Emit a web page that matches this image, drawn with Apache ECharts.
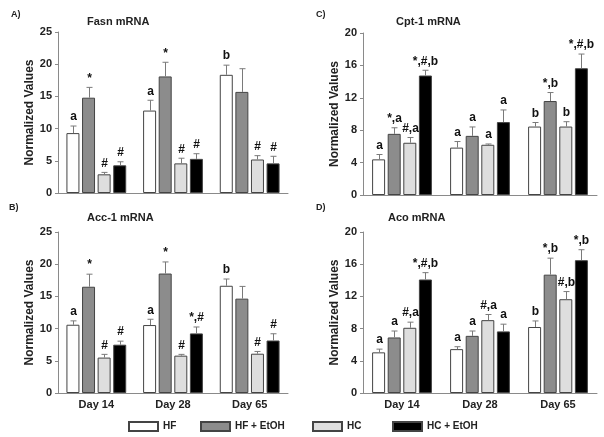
<!DOCTYPE html>
<html>
<head>
<meta charset="utf-8">
<script src="https://cdn.jsdelivr.net/npm/echarts@6/dist/echarts.min.js"></script>
<style>
  html, body { margin: 0; padding: 0; background: #fff; }
  #chart { width: 604px; height: 437px; }
</style>
</head>
<body>
<div id="chart"></div>
<script>
// categories and groups
const days = ['Day 14', 'Day 28', 'Day 65'];
const groups = ['HF', 'HF + EtOH', 'HC', 'HC + EtOH'];
const colors = ['#ffffff', '#8c8c8c', '#dedede', '#000000'];

// A) Fasn mRNA  (rows = groups, cols = days)
const fasnMean = [[9.3, 12.8, 18.35], [14.8, 18.1, 15.7], [2.9, 4.6, 5.2], [4.3, 5.3, 4.6]];
const fasnErr  = [[1.1, 1.6, 1.5], [1.6, 2.2, 3.6], [0.3, 0.8, 0.6], [0.55, 0.8, 1.1]];
const fasnSig  = [['a', 'a', 'b'], ['*', '*', ''], ['#', '#', '#'], ['#', '#', '#']];

// B) Acc-1 mRNA
const accMean = [[10.6, 10.55, 16.65], [16.5, 18.55, 14.65], [5.5, 5.8, 6.1], [7.5, 9.25, 8.15]];
const accErr  = [[0.6, 0.9, 1.05], [1.95, 1.8, 1.9], [0.5, 0.2, 0.35], [0.55, 1.0, 1.05]];
const accSig  = [['a', 'a', 'b'], ['*', '*', ''], ['#', '#', '#'], ['#', '*,#', '#']];

// C) Cpt-1 mRNA
const cptMean = [[4.4, 5.85, 8.45], [7.55, 7.3, 11.6], [6.45, 6.2, 8.45], [14.75, 9.0, 15.65]];
const cptErr  = [[0.6, 0.75, 0.5], [0.75, 1.1, 1.05], [0.65, 0.1, 0.6], [0.65, 1.5, 1.75]];
const cptSig  = [['a', 'a', 'b'], ['*,a', 'a', '*,b'], ['#,a', 'a', 'b'], ['*,#,b', 'a', '*,#,b']];

// D) Aco mRNA
const acoMean = [[5.05, 5.45, 8.2], [6.9, 7.1, 14.7], [8.1, 9.05, 11.65], [14.1, 7.65, 16.5]];
const acoErr  = [[0.4, 0.3, 0.75], [0.8, 0.6, 2.05], [0.7, 0.7, 0.95], [0.85, 0.9, 1.3]];
const acoSig  = [['a', 'a', 'b'], ['a', 'a', '*,b'], ['#,a', '#,a', '#,b'], ['*,#,b', 'a', '*,b']];

const FONT = '"Liberation Sans", Arial, sans-serif';
const BAR_W = 13;
const BAR_SP = 2.6;
const AXIS_C = '#8a8a8a';

const panels = [
  { mean: fasnMean, err: fasnErr, sig: fasnSig, max: 25, step: 5, grid: { left: 58, top: 32, width: 230, height: 161 }, days: false },
  { mean: accMean, err: accErr, sig: accSig, max: 25, step: 5, grid: { left: 58, top: 232, width: 230, height: 161 }, days: true },
  { mean: cptMean, err: cptErr, sig: cptSig, max: 20, step: 4, grid: { left: 363, top: 33, width: 234, height: 162 }, days: false },
  { mean: acoMean, err: acoErr, sig: acoSig, max: 20, step: 4, grid: { left: 363, top: 232, width: 234, height: 161 }, days: true }
];

const grids = [], xAxes = [], yAxes = [], series = [];

panels.forEach((p, pi) => {
  grids.push(p.grid);
  xAxes.push({
    type: 'category', gridIndex: pi, data: days,
    axisLine: { lineStyle: { color: AXIS_C } },
    axisTick: { alignWithLabel: true, length: 3, lineStyle: { color: AXIS_C } },
    axisLabel: { show: p.days, color: '#222', fontFamily: FONT, fontWeight: 'bold', fontSize: 11, margin: 6 }
  });
  yAxes.push({
    type: 'value', gridIndex: pi, min: 0, max: p.max, interval: p.step,
    name: 'Normalized Values', nameLocation: 'middle', nameGap: 22,
    nameTextStyle: { color: '#222', fontFamily: FONT, fontWeight: 'bold', fontSize: 12 },
    axisLine: { show: true, lineStyle: { color: AXIS_C } },
    axisTick: { show: true, length: 3, lineStyle: { color: AXIS_C } },
    axisLabel: { color: '#222', fontFamily: FONT, fontWeight: 'bold', fontSize: 11, margin: 6 },
    splitLine: { show: false }
  });
  groups.forEach((g, gi) => {
    series.push({
      name: g, type: 'bar', xAxisIndex: pi, yAxisIndex: pi,
      data: p.mean[gi], barWidth: BAR_W, barGap: '20%',
      itemStyle: { color: colors[gi], borderColor: '#444', borderWidth: 1 }
    });
  });
  // error bars + significance letters
  const items = [];
  groups.forEach((g, gi) => {
    days.forEach((d, di) => {
      items.push([di, p.mean[gi][di], p.mean[gi][di] + p.err[gi][di], gi]);
    });
  });
  series.push({
    type: 'custom', xAxisIndex: pi, yAxisIndex: pi, data: items, z: 10,
    encode: { x: 0, y: [1, 2] },
    renderItem: function (params, api) {
      const di = api.value(0), gi = api.value(3);
      const base = api.coord([di, api.value(1)]);
      const top = api.coord([di, api.value(2)]);
      const x = Math.round(base[0] + (gi - 1.5) * (BAR_W + BAR_SP)) + 0.5;
      const sty = { stroke: '#7a7a7a', lineWidth: 1 };
      const sig = p.sig[gi][di];
      const children = [
        { type: 'line', shape: { x1: x, y1: base[1], x2: x, y2: top[1] }, style: sty },
        { type: 'line', shape: { x1: x - 3, y1: top[1], x2: x + 3, y2: top[1] }, style: sty }
      ];
      if (sig) {
        children.push({
          type: 'text', x: x, y: top[1] - 3,
          style: { text: sig, fill: '#111', font: 'bold 12px ' + FONT, align: 'center', verticalAlign: 'bottom' }
        });
      }
      return { type: 'group', children: children };
    }
  });
});

const titleStyle = { color: '#222', fontFamily: FONT, fontWeight: 'bold', fontSize: 11 };
const panelStyle = { color: '#222', fontFamily: FONT, fontWeight: 'bold', fontSize: 9 };

const legendBase = {
  orient: 'horizontal', top: 421, padding: 0, icon: 'rect', itemWidth: 29, itemHeight: 9, itemGap: 0,
  textStyle: { color: '#222', fontFamily: FONT, fontWeight: 'bold', fontSize: 10 },
  selectedMode: false
};

const option = {
  animation: false,
  backgroundColor: '#fff',
  title: [
    { text: 'A)', left: 6, top: 5, textStyle: panelStyle },
    { text: 'Fasn mRNA', left: 82, top: 11, textStyle: titleStyle },
    { text: 'B)', left: 4, top: 198, textStyle: panelStyle },
    { text: 'Acc-1 mRNA', left: 82, top: 207, textStyle: titleStyle },
    { text: 'C)', left: 311, top: 5, textStyle: panelStyle },
    { text: 'Cpt-1 mRNA', left: 391, top: 11, textStyle: titleStyle },
    { text: 'D)', left: 311, top: 198, textStyle: panelStyle },
    { text: 'Aco mRNA', left: 383, top: 207, textStyle: titleStyle }
  ],
  legend: [
    Object.assign({ data: ['HF'], left: 128 }, legendBase),
    Object.assign({ data: ['HF + EtOH'], left: 200 }, legendBase),
    Object.assign({ data: ['HC'], left: 312 }, legendBase),
    Object.assign({ data: ['HC + EtOH'], left: 392 }, legendBase)
  ],
  grid: grids,
  xAxis: xAxes,
  yAxis: yAxes,
  series: series
};

const chart = echarts.init(document.getElementById('chart'), null, { renderer: 'canvas' });
chart.setOption(option);
</script>
</body>
</html>
